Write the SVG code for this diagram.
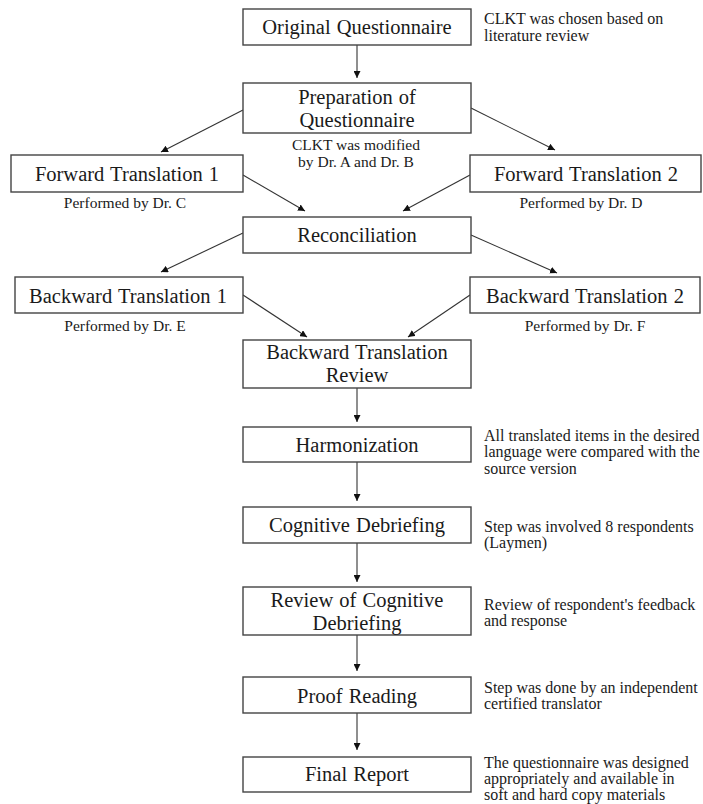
<svg xmlns="http://www.w3.org/2000/svg" width="703" height="804" viewBox="0 0 703 804">
<style>
.box{fill:#fff;stroke:#444;stroke-width:1.4}
.lbl{font-family:"Liberation Serif","Times New Roman",serif;font-size:20.5px;fill:#1a1a1a;text-anchor:middle;word-spacing:1px}
.sub{font-family:"Liberation Serif","Times New Roman",serif;font-size:15.5px;fill:#1a1a1a;text-anchor:middle}
.note{font-family:"Liberation Serif","Times New Roman",serif;font-size:16px;fill:#1a1a1a}
.con line{stroke:#333;stroke-width:1.1;fill:none}
</style>
<defs>
<marker id="ah" viewBox="0 0 10 10" refX="10" refY="5" markerWidth="7" markerHeight="7" markerUnits="userSpaceOnUse" orient="auto">
<path d="M0,0 L10,5 L0,10 z" fill="#111"/>
</marker>
</defs>
<rect width="703" height="804" fill="#fff"/>

<g id="connectors" class="con">
<line x1="357" y1="45" x2="357" y2="78" marker-end="url(#ah)"/>
<line x1="243" y1="110" x2="161" y2="152" marker-end="url(#ah)"/>
<line x1="471" y1="108" x2="555" y2="150" marker-end="url(#ah)"/>
<line x1="243" y1="175" x2="305" y2="211" marker-end="url(#ah)"/>
<line x1="470" y1="175" x2="403" y2="211" marker-end="url(#ah)"/>
<line x1="243" y1="233" x2="161" y2="272" marker-end="url(#ah)"/>
<line x1="471" y1="235" x2="557" y2="273" marker-end="url(#ah)"/>
<line x1="243" y1="295" x2="307" y2="337" marker-end="url(#ah)"/>
<line x1="470" y1="295" x2="408" y2="337" marker-end="url(#ah)"/>
<line x1="357" y1="388" x2="357" y2="422" marker-end="url(#ah)"/>
<line x1="357" y1="462" x2="357" y2="501" marker-end="url(#ah)"/>
<line x1="357" y1="543" x2="357" y2="582" marker-end="url(#ah)"/>
<line x1="357" y1="635" x2="357" y2="671" marker-end="url(#ah)"/>
<line x1="357" y1="713" x2="357" y2="750" marker-end="url(#ah)"/>
</g>

<g id="original">
<rect class="box" x="243" y="9" width="228" height="36"/>
<text class="lbl" x="357" y="34">Original Questionnaire</text>
</g>
<g id="original-note">
<text class="note" x="484" y="24">CLKT was chosen based on</text>
<text class="note" x="484" y="41">literature review</text>
</g>

<g id="preparation">
<rect class="box" x="243" y="83" width="228" height="50"/>
<text class="lbl" x="357" y="104">Preparation of</text>
<text class="lbl" x="357" y="127">Questionnaire</text>
</g>
<g id="preparation-note">
<text class="sub" x="356" y="150">CLKT was modified</text>
<text class="sub" x="356" y="167">by Dr. A and Dr. B</text>
</g>

<g id="forward1">
<rect class="box" x="11" y="155" width="232" height="37"/>
<text class="lbl" x="127" y="181">Forward Translation 1</text>
<text class="sub" x="125" y="208">Performed by Dr. C</text>
</g>

<g id="forward2">
<rect class="box" x="470" y="155" width="231" height="37"/>
<text class="lbl" x="586" y="181">Forward Translation 2</text>
<text class="sub" x="581" y="208">Performed by Dr. D</text>
</g>

<g id="reconciliation">
<rect class="box" x="243" y="217" width="228" height="36"/>
<text class="lbl" x="357" y="242">Reconciliation</text>
</g>

<g id="backward1">
<rect class="box" x="15" y="277" width="228" height="36"/>
<text class="lbl" x="128" y="303">Backward Translation 1</text>
<text class="sub" x="125" y="331">Performed by Dr. E</text>
</g>

<g id="backward2">
<rect class="box" x="470" y="277" width="230" height="36"/>
<text class="lbl" x="585" y="303">Backward Translation 2</text>
<text class="sub" x="585" y="331">Performed by Dr. F</text>
</g>

<g id="backward-review">
<rect class="box" x="243" y="340" width="228" height="48"/>
<text class="lbl" x="357" y="359">Backward Translation</text>
<text class="lbl" x="357" y="382">Review</text>
</g>

<g id="harmonization">
<rect class="box" x="243" y="427" width="228" height="35"/>
<text class="lbl" x="357" y="452">Harmonization</text>
</g>
<g id="harmonization-note">
<text class="note" x="484" y="441">All translated items in the desired</text>
<text class="note" x="484" y="457">language were compared with the</text>
<text class="note" x="484" y="474">source version</text>
</g>

<g id="cognitive">
<rect class="box" x="243" y="507" width="228" height="36"/>
<text class="lbl" x="357" y="532">Cognitive Debriefing</text>
</g>
<g id="cognitive-note">
<text class="note" x="484" y="532">Step was involved 8 respondents</text>
<text class="note" x="484" y="548">(Laymen)</text>
</g>

<g id="review-cognitive">
<rect class="box" x="243" y="587" width="228" height="48"/>
<text class="lbl" x="357" y="607">Review of Cognitive</text>
<text class="lbl" x="357" y="630">Debriefing</text>
</g>
<g id="review-note">
<text class="note" x="484" y="610">Review of respondent's feedback</text>
<text class="note" x="484" y="626">and response</text>
</g>

<g id="proof">
<rect class="box" x="243" y="677" width="228" height="36"/>
<text class="lbl" x="357" y="703">Proof Reading</text>
</g>
<g id="proof-note">
<text class="note" x="484" y="693">Step was done by an independent</text>
<text class="note" x="484" y="709">certified translator</text>
</g>

<g id="final">
<rect class="box" x="243" y="757" width="228" height="35"/>
<text class="lbl" x="357" y="781">Final Report</text>
</g>
<g id="final-note">
<text class="note" x="484" y="768">The questionnaire was designed</text>
<text class="note" x="484" y="784">appropriately and available in</text>
<text class="note" x="484" y="800">soft and hard copy materials</text>
</g>
</svg>
